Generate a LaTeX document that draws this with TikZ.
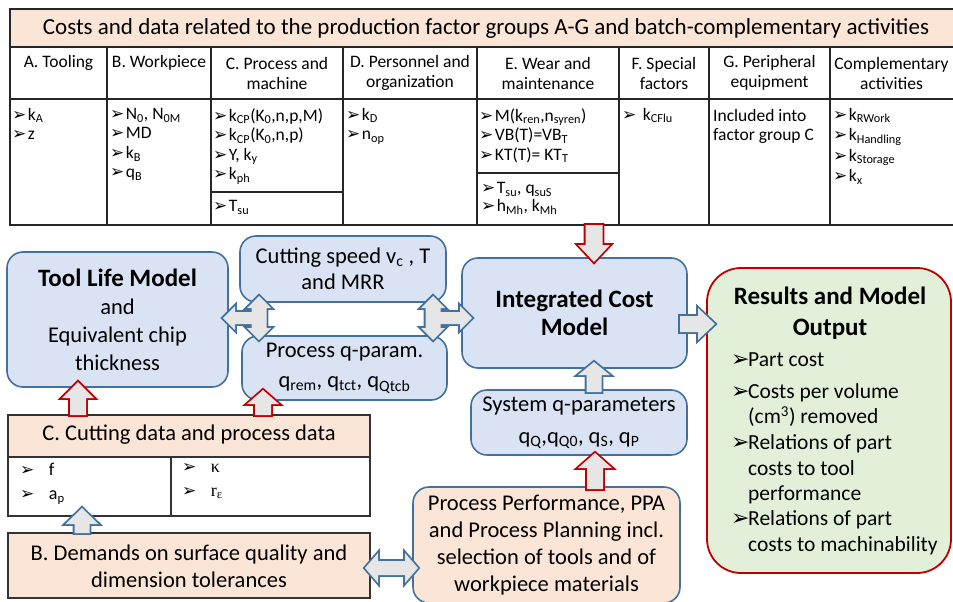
\documentclass[tikz,border=0pt]{standalone}
\usepackage{fontspec}
\setmainfont{Carlito}
\newfontfamily\dvs{DejaVu Sans}
\newfontfamily\lserif{Liberation Serif}
\usetikzlibrary{calc}
\definecolor{peach}{HTML}{FBE5D6}
\definecolor{lblue}{HTML}{DAE3F3}
\definecolor{bblue}{HTML}{41719C}
\definecolor{lgreen}{HTML}{E2F0D9}
\definecolor{dred}{HTML}{C00000}
\definecolor{agray}{HTML}{E6E6E6}
\newcommand\fs[2]{\fontsize{#1}{#2}\selectfont}
\newcommand\bul{{\dvs\fontsize{17}{14}\selectfont ➢}\hspace{1.5pt}}
\newcommand\rbul{\makebox[17pt][l]{\dvs\fontsize{22}{18}\selectfont ➢}}
\newcommand\rin{\hspace*{17pt}}
\newcommand\ssb[1]{\textsubscript{#1}}
% block arrows
\newcommand\arrprep[5]{%
  \path let \p1=(#1), \p2=(#2) in \pgfextra{%
    \pgfmathsetmacro\tmpA{atan2(\y2-\y1,\x2-\x1)}%
    \pgfmathsetmacro\tmpL{veclen(\x2-\x1,\y2-\y1)}%
    \pgfmathsetmacro\tmpX{\x1}%
    \pgfmathsetmacro\tmpY{\y1}%
    \xdef\ArAng{\tmpA}\xdef\ArLen{\tmpL}%
    \xdef\ArX{\tmpX}\xdef\ArY{\tmpY}};
  \gdef\ArS{#3}\gdef\ArH{#4}\gdef\ArL{#5}}
\newcommand\SA{(0,-\ArS) -- ({\ArLen-\ArL},-\ArS) -- ({\ArLen-\ArL},-\ArH) -- (\ArLen,0) -- ({\ArLen-\ArL},\ArH) -- ({\ArLen-\ArL},\ArS) -- (0,\ArS) -- cycle}
\newcommand\DA{(\ArL,-\ArS) -- ({\ArLen-\ArL},-\ArS) -- ({\ArLen-\ArL},-\ArH) -- (\ArLen,0) -- ({\ArLen-\ArL},\ArH) -- ({\ArLen-\ArL},\ArS) -- (\ArL,\ArS) -- (\ArL,\ArH) -- (0,0) -- (\ArL,-\ArH) -- cycle}
\newcommand\arrstroke[2]{%
  \begin{scope}[shift={(\ArX pt,\ArY pt)}, rotate=\ArAng]
    \draw[draw=#2, line width=3.6pt, line join=miter] #1;
  \end{scope}}
\newcommand\arrfill[1]{%
  \begin{scope}[shift={(\ArX pt,\ArY pt)}, rotate=\ArAng]
    \fill[agray] #1;
  \end{scope}}
\newcommand\barr[7]{\arrprep{#1}{#2}{#4}{#5}{#6}\arrstroke{#3}{#7}\arrfill{#3}}

\begin{document}
\begin{tikzpicture}[x=1pt,y=-1pt,
  tline/.style={line width=1.3pt, draw=black!85},
  bluebox/.style={draw=bblue, line width=1.6pt, fill=lblue, rounded corners=16pt, align=center, inner sep=0pt},
  colhead/.style={align=center, font=\fs{17.5}{20}, inner sep=0pt},
  items/.style={align=left, anchor=north west, font=\fs{17.5}{19.5}, inner sep=0pt},
  big/.style={font=\fs{22.5}{26}}
]
\useasboundingbox (0,0) rectangle (953,602);

% ---------- top table ----------
\path[fill=peach] (10,9) rectangle (953,47);
\draw[tline] (953,9) -- (10,9) -- (10,225) -- (953,225);
\draw[tline] (10,47) -- (953,47) (10,99) -- (953,99);
\foreach \x in {107,211,343,477,619,709,830} \draw[tline] (\x,47) -- (\x,225);
\draw[tline] (211,192) -- (343,192) (477,173) -- (619,173);

\node[font=\fs{23}{26}, inner sep=0pt] (hdr) at (486,28) {Costs and data related to the production factor groups A-G and batch-complementary activities};

\node[colhead] (hA) at (58.5,63) {A. Tooling};
\node[colhead] (hB) at (159,63) {B. Workpiece};
\node[colhead] (hC) at (277,73) {C. Process and\\machine};
\node[colhead] (hD) at (410,73) {D. Personnel and\\organization};
\node[colhead] (hE) at (548,73) {E. Wear and\\maintenance};
\node[colhead] (hF) at (664,73) {F. Special\\factors};
\node[colhead] (hG) at (769.5,73) {G. Peripheral\\equipment};
\node[colhead] (hH) at (891.5,73) {Complementary\\activities};

\node[items] (dA) at (12,108) {\bul k\ssb{A}\\\bul z};
\node[items] (dB) at (110,108) {\bul N\ssb{0}, N\ssb{0M}\\\bul MD\\\bul k\ssb{B}\\\bul q\ssb{B}};
\node[items] (dC) at (213,108) {\bul k\ssb{CP}(K\ssb{0},n,p,M)\\\bul k\ssb{CP}(K\ssb{0},n,p)\\\bul Y, k\ssb{y}\\\bul k\ssb{ph}};
\node[items] (dC2) at (213,200) {\bul T\ssb{su}};
\node[items] (dD) at (346,108) {\bul k\ssb{D}\\\bul n\ssb{op}};
\node[items] (dE) at (479,108) {\bul M(k\ssb{ren},n\ssb{syren})\\\bul VB(T)=VB\ssb{T}\\\bul KT(T)= KT\ssb{T}};
\node[items, font=\fs{17.5}{18}] (dE2) at (481,182) {\bul T\ssb{su}, q\ssb{suS}\\\bul h\ssb{Mh}, k\ssb{Mh}};
\node[items] (dF) at (622,108) {\bul\hspace{5pt}k\ssb{CFlu}};
\node[items] (dG) at (713,109) {Included into\\factor group C};
\node[items, font=\fs{17.5}{20.5}] (dH) at (833,108) {\bul k\ssb{RWork}\\\bul k\ssb{Handling}\\\bul k\ssb{Storage}\\\bul k\ssb{x}};

% ---------- middle boxes ----------
\node[bluebox, minimum width=221pt, minimum height=135pt, font=\fs{22.5}{28}] (tool) at (117.5,319.5)
  {{\bfseries\fs{25}{28}Tool Life Model}\\and\\Equivalent chip\\thickness};
\node[bluebox, minimum width=206pt, minimum height=66pt, big] (cut) at (343,269)
  {Cutting speed v\ssb{c} , T\\and MRR};
\node[bluebox, minimum width=205pt, minimum height=64pt, font=\fs{22.5}{30}] (procq) at (344.5,368)
  {Process q-param.\\q\ssb{rem}, q\ssb{tct}, q\ssb{Qtcb}};
\node[bluebox, minimum width=225pt, minimum height=110pt, font=\bfseries\fs{25}{28}] (int) at (574.5,313)
  {Integrated Cost\\Model};
\node[bluebox, minimum width=216pt, minimum height=65pt, font=\fs{22.5}{32}] (sys) at (579,422.5)
  {System q-parameters\\q\ssb{Q},q\ssb{Q0}, q\ssb{S}, q\ssb{P}};
\node[bluebox, fill=peach, minimum width=267pt, minimum height=116pt, font=\fs{22.5}{27}] (pp) at (546.5,545)
  {Process Performance, PPA\\and Process Planning incl.\\selection of tools and of\\workpiece materials};
\node[draw=dred, line width=1.8pt, fill=lgreen, rounded corners=34pt, minimum width=244pt, minimum height=305pt, inner sep=0pt] (res) at (829,420.5) {};
\node[font=\bfseries\fs{25}{31}, align=center, inner sep=0pt] (rtitle) at (830,313) {Results and Model\\Output};
\node[anchor=north west, align=left, inner sep=0pt, font=\fs{21.5}{25.5}] (rlist) at (731,352) {%
\rbul Part cost\\[7pt]
\rbul Costs per volume\\
\rin (cm\textsuperscript{3}) removed\\
\rbul Relations of part\\
\rin costs to tool\\
\rin performance\\
\rbul Relations of part\\
\rin costs to machinability};

% ---------- lower-left boxes ----------
\draw[line width=1.2pt, draw=black!80, fill=peach] (8,415) rectangle (370,457);
\draw[line width=1.2pt, draw=black!80, fill=white] (8,457) rectangle (370,516);
\draw[line width=1.2pt, draw=black!80] (171,457) -- (171,516);
\node[font=\fs{22.5}{24}, inner sep=0pt] (chead) at (189,435) {C. Cutting data and process data};
\node[items, font=\fs{18}{24}] (cl) at (20,463) {\bul\hspace{13pt}f\\\bul\hspace{13pt}a\ssb{p}};
\node[items, font=\fs{18}{24}] (cr) at (182,463) {\bul\hspace{13pt}{\lserif κ}\\\bul\hspace{13pt}{\lserif r\ssb{ε}}};
\draw[line width=1.2pt, draw=black!80, fill=peach] (8,533) rectangle (370,598);
\node[font=\fs{22.5}{27}, align=center, inner sep=0pt] (bdem) at (189,566) {B. Demands on surface quality and\\dimension tolerances};

% ---------- block arrows ----------
\coordinate (a1s) at (594,225);  \coordinate (a1e) at (594,262);
\coordinate (a2s) at (680,324);  \coordinate (a2e) at (715,324);
\coordinate (a3s) at (594,392);  \coordinate (a3e) at (594,362);
\coordinate (a4s) at (595,489);  \coordinate (a4e) at (595,453);
\coordinate (a5s) at (78,415);   \coordinate (a5e) at (78,382);
\coordinate (a6s) at (263,415);  \coordinate (a6e) at (263,390);
\coordinate (a7s) at (82,533);   \coordinate (a7e) at (82,508);
\coordinate (a8s) at (365,568);  \coordinate (a8e) at (418,568);
\coordinate (lvs) at (259,296);  \coordinate (lve) at (259,340);
\coordinate (lhs) at (266,318);  \coordinate (lhe) at (223,318);
\coordinate (rvs) at (433,296);  \coordinate (rve) at (433,340);
\coordinate (rhs) at (426,318);  \coordinate (rhe) at (472,318);

\barr{a1s}{a1e}{\SA}{8.5}{16}{17}{dred}
\barr{a2s}{a2e}{\SA}{8}{16}{17}{bblue}
\barr{a3s}{a3e}{\SA}{7.5}{16}{13}{bblue}
\barr{a4s}{a4e}{\SA}{8}{17}{15}{dred}
\barr{a5s}{a5e}{\SA}{8}{16}{16}{dred}
\barr{a6s}{a6e}{\SA}{8}{16}{14}{dred}
\barr{a7s}{a7e}{\SA}{7.5}{16.5}{16}{bblue}
\barr{a8s}{a8e}{\DA}{7}{15}{13}{bblue}
% merged cross arrows (stroke first, then fill)
\arrprep{lvs}{lve}{7.5}{12}{12}\arrstroke{\DA}{bblue}
\arrprep{lhs}{lhe}{6}{12}{12}\arrstroke{\SA}{bblue}
\arrprep{rvs}{rve}{7.5}{12}{12}\arrstroke{\DA}{bblue}
\arrprep{rhs}{rhe}{6}{12}{12}\arrstroke{\SA}{bblue}
\arrprep{lvs}{lve}{7.5}{12}{12}\arrfill{\DA}
\arrprep{lhs}{lhe}{6}{12}{12}\arrfill{\SA}
\arrprep{rvs}{rve}{7.5}{12}{12}\arrfill{\DA}
\arrprep{rhs}{rhe}{6}{12}{12}\arrfill{\SA}
\end{tikzpicture}
\end{document}
